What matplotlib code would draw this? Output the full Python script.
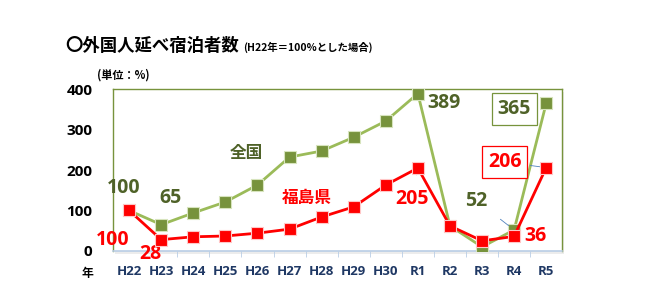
import matplotlib.pyplot as plt
from matplotlib.patches import Rectangle

plt.rcParams['font.family'] = ['Noto Sans CJK JP', 'DejaVu Sans']

# データ (H22年=100%)
years = ['H22', 'H23', 'H24', 'H25', 'H26', 'H27', 'H28', 'H29', 'H30', 'R1', 'R2', 'R3', 'R4', 'R5']
zenkoku = [100, 65, 94, 121, 163, 232, 247, 281, 321, 389, 62, 10, 52, 365]
fukushima = [100, 28, 35, 37, 44, 54, 84, 109, 163, 205, 62, 25, 36, 206]
y_ticks = [0, 100, 200, 300, 400]

green_line = '#9BBB59'
green_dark = '#4F6228'
green_edge = '#77933C'
red = '#FF0000'
navy = '#1F3864'

fig = plt.figure(figsize=(6.5, 2.97), dpi=100)
ax = fig.add_axes([0.174, 0.155, 0.691, 0.545])

x = list(range(len(years)))

# 影っぽい枠
fig.patches.append(Rectangle((0.177, 0.145), 0.691, 0.545, transform=fig.transFigure,
                             facecolor='#ECECEC', edgecolor='none', zorder=-1))
ax.set_facecolor('white')

ax.plot(x, zenkoku, color=green_line, lw=2.0, marker='s', markersize=8,
        markerfacecolor='#77933C', markeredgecolor='#D7E4BD', markeredgewidth=0.8, zorder=3)
ax.plot(x, fukushima, color=red, lw=2.0, marker='s', markersize=8,
        markerfacecolor=red, markeredgecolor='#FFC7C7', markeredgewidth=0.8, zorder=4)

ax.set_xlim(-0.5, len(years) - 0.5)
ax.set_ylim(0, 400)
ax.set_yticks(y_ticks)
ax.set_yticklabels([str(v) for v in y_ticks], fontsize=11, fontweight='bold', color='black',
                   family=['Open Sans', 'DejaVu Sans'])
ax.set_xticks(x)
ax.set_xticklabels(years, fontsize=9.5, fontweight='bold', color=navy, family=['Open Sans', 'DejaVu Sans'])
ax.tick_params(axis='y', length=0, pad=15)
ax.tick_params(axis='x', length=0, pad=10)

# カテゴリ間の目盛
ax.set_xticks([i + 0.5 for i in range(len(years) - 1)], minor=True)
ax.tick_params(axis='x', which='minor', length=4, color='#B9CDE5', direction='out')

for s in ['left', 'top', 'right']:
    ax.spines[s].set_color(green_edge)
    ax.spines[s].set_linewidth(1.0)
ax.spines['bottom'].set_color('#B9CDE5')
ax.spines['bottom'].set_linewidth(1.2)

lab = dict(fontsize=14, fontweight='bold', ha='center', va='center', family=['Open Sans', 'DejaVu Sans'],
           textcoords='offset points')
lead = dict(arrowstyle='-', color='#4F81BD', lw=0.6)

# 全国ラベル
ax.annotate(str(zenkoku[0]), (0, zenkoku[0]), xytext=(-4, 16), color=green_dark, **lab)
ax.annotate(str(zenkoku[1]), (1, zenkoku[1]), xytext=(7, 19), color=green_dark, **lab)
ax.annotate(str(zenkoku[9]), (9, zenkoku[9]), xytext=(19, -7), color=green_dark, **lab)
ax.annotate(str(zenkoku[12]), (12, zenkoku[12]), xytext=(-27, 21), color=green_dark,
            arrowprops=dict(shrinkA=9, shrinkB=5, **lead), **lab)
ax.annotate(str(zenkoku[13]), (13, zenkoku[13]), xytext=(-23, -4), color=green_dark,
            bbox=dict(boxstyle='square,pad=0.3', fc='white', ec=green_edge, lw=0.9), **lab)

# 福島県ラベル
ax.annotate(str(fukushima[0]), (0, fukushima[0]), xytext=(-12, -21), color=red, **lab)
ax.annotate(str(fukushima[1]), (1, fukushima[1]), xytext=(-8, -10), color=red, **lab)
ax.annotate(str(fukushima[9]), (9, fukushima[9]), xytext=(-4, -22), color=red,
            arrowprops=dict(shrinkA=8, shrinkB=0, **lead), **lab)
ax.annotate(str(fukushima[12]), (12, fukushima[12]), xytext=(15, 0), color=red, **lab)
ax.annotate(str(fukushima[13]), (13, fukushima[13]), xytext=(-30, 4), color=red,
            bbox=dict(boxstyle='square,pad=0.3', fc='white', ec=red, lw=0.9),
            arrowprops=dict(shrinkA=2, shrinkB=3, **lead), **lab)

# 系列名
ax.text(3.64, 242, '全国', color=green_dark, fontsize=12, fontweight='bold', ha='center', va='center')
ax.text(5.54, 131, '福島県', color=red, fontsize=12, fontweight='bold', ha='center', va='center')

# タイトル等
fig.text(0.100, 0.845, '〇外国人延べ宿泊者数', fontsize=12.5, fontweight='bold', ha='left', va='center')
fig.text(0.374, 0.840, '(H22年＝100%とした場合)', fontsize=7.5, fontweight='bold', ha='left', va='center')
fig.text(0.150, 0.748, '(単位：%)', fontsize=8, fontweight='bold', ha='left', va='center')
fig.text(0.134, 0.080, '年', fontsize=8.5, fontweight='bold', ha='center', va='center')

fig.savefig('out.png', dpi=100)
